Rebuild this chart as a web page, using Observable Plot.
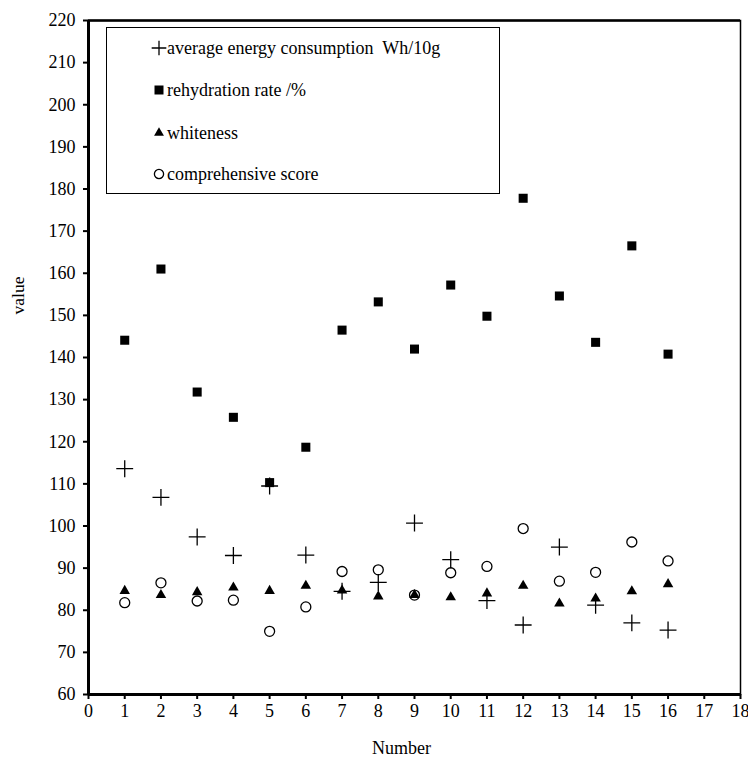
<!DOCTYPE html>
<html>
<head>
<meta charset="utf-8">
<script src="https://cdn.jsdelivr.net/npm/d3@7"></script>
<script src="https://cdn.jsdelivr.net/npm/@observablehq/plot@0.6"></script>
<style>
  html, body { margin: 0; padding: 0; background: #fff; }
  #chart { position: relative; width: 748px; height: 771px; }
  svg { font-family: "Liberation Serif", "Times New Roman", serif; }
</style>
</head>
<body>
<div id="chart"></div>
<script>
const numbers = [1, 2, 3, 4, 5, 6, 7, 8, 9, 10, 11, 12, 13, 14, 15, 16];
const energy = [113.6, 106.8, 97.4, 93.0, 109.5, 93.1, 84.5, 86.6, 100.7, 92.0, 82.3, 76.5, 95.0, 81.2, 77.0, 75.3];
const rehydration = [144.1, 161.0, 131.8, 125.8, 110.3, 118.7, 146.5, 153.2, 142.0, 157.2, 149.8, 177.8, 154.6, 143.6, 166.5, 140.8];
const whiteness = [84.6, 83.6, 84.3, 85.4, 84.6, 85.8, 84.7, 83.3, 83.6, 83.1, 84.0, 85.8, 81.6, 82.8, 84.5, 86.2];
const comprehensive = [81.8, 86.5, 82.2, 82.4, 75.0, 80.8, 89.2, 89.6, 83.6, 88.9, 90.4, 99.4, 86.9, 89.0, 96.2, 91.7];
const xTicks = d3.range(0, 19, 1);
const yTicks = d3.range(60, 221, 10);
const seriesNames = ["average energy consumption  Wh/10g", "rehydration rate /%", "whiteness", "comprehensive score"];

const toRows = (vals) => numbers.map((n, i) => ({x: n, y: vals[i]}));

const chart = Plot.plot({
  width: 748,
  height: 771,
  marginLeft: 88,
  marginRight: 8,
  marginTop: 20,
  marginBottom: 77,
  style: {fontFamily: "Liberation Serif, Times New Roman, serif", fontSize: "18px", background: "#fff", color: "#000"},
  x: {domain: [0, 18]},
  y: {domain: [60, 220]},
  marks: [
    Plot.frame({stroke: "#000", strokeWidth: 1.5}),
    Plot.axisX({ticks: xTicks, tickSize: 5, tickPadding: 5, tickFormat: d3.format("d"), label: null, fontSize: 18, strokeWidth: 2}),
    Plot.axisY({ticks: yTicks, tickSize: 5, tickPadding: 8, tickFormat: d3.format("d"), label: null, fontSize: 18, strokeWidth: 2}),
    Plot.ruleX([0], {stroke: "#000", strokeWidth: 3}),
    Plot.ruleY([60], {stroke: "#000", strokeWidth: 3}),
    Plot.ruleY([220], {stroke: "#000", strokeWidth: 2.5}),
    Plot.dot(toRows(rehydration), {x: "x", y: "y", symbol: "square", r: 5.1, fill: "#000", stroke: "none"}),
    Plot.dot(toRows(whiteness), {x: "x", y: "y", symbol: "triangle", r: 3.9, fill: "#000", stroke: "none"}),
    Plot.dot(toRows(comprehensive), {x: "x", y: "y", symbol: "circle", r: 5, fill: "none", stroke: "#000", strokeWidth: 1.3}),
    Plot.dot(toRows(energy), {x: "x", y: "y", symbol: "plus", r: 5.5, stroke: "#000", strokeWidth: 1.3}),
    Plot.text(["value"], {frameAnchor: "left", dx: -70, dy: -43, rotate: -90, fontSize: 17.5, fill: "#000"}),
    Plot.text(["Number"], {frameAnchor: "bottom", dx: -13, dy: 59, fontSize: 18, fill: "#000"})
  ]
});

document.getElementById("chart").appendChild(chart);

// Legend inside plot area
const svg = d3.select(chart);
const lg = svg.append("g").attr("text-anchor", "start");
lg.append("rect").attr("x", 106.5).attr("y", 27.5).attr("width", 393).attr("height", 166)
  .attr("fill", "#fff").attr("stroke", "#000").attr("stroke-width", 1);
const legendSymbols = [
  {sym: d3.symbolPlus, size: 72, fill: "none", stroke: "#000"},
  {sym: d3.symbolSquare, size: 81, fill: "#000", stroke: "none"},
  {sym: d3.symbolTriangle, size: 42, fill: "#000", stroke: "none"},
  {sym: d3.symbolCircle, size: Math.PI * 4.6 * 4.6, fill: "none", stroke: "#000"}
];
const rowsY = [48, 90, 133, 174];
seriesNames.forEach((name, i) => {
  const s = legendSymbols[i];
  lg.append("path")
    .attr("d", d3.symbol(s.sym, s.size)())
    .attr("transform", `translate(159,${rowsY[i]})`)
    .attr("fill", s.fill).attr("stroke", s.stroke).attr("stroke-width", 1.3);
  lg.append("text")
    .attr("x", 167).attr("y", rowsY[i]).attr("dy", "0.35em")
    .attr("text-anchor", "start")
    .attr("font-size", 18).attr("fill", "#000")
    .style("white-space", "pre")
    .attr("xml:space", "preserve")
    .text(name);
});
</script>
</body>
</html>
